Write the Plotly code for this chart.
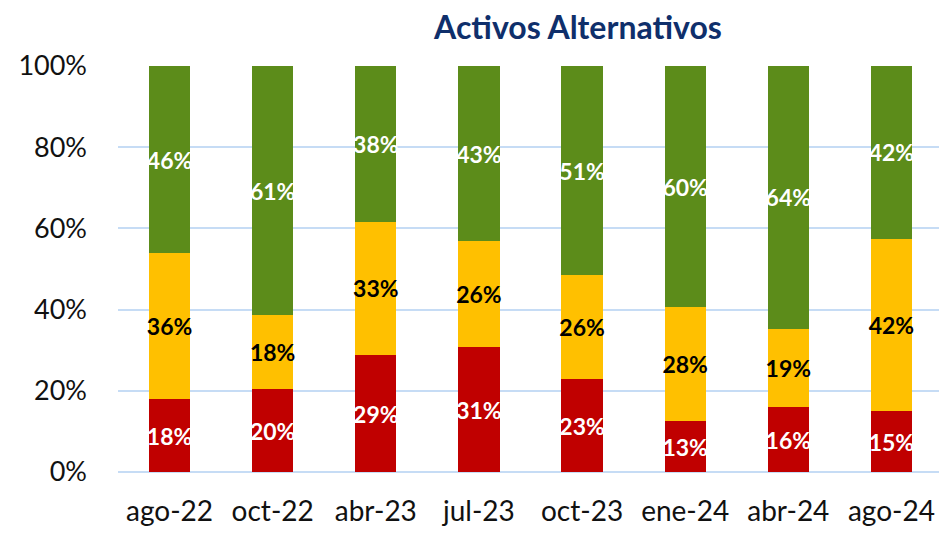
import plotly.graph_objects as go

categories = ["ago-22", "oct-22", "abr-23", "jul-23", "oct-23", "ene-24", "abr-24", "ago-24"]
red_vals = [17.9, 20.4, 28.7, 30.7, 22.8, 12.6, 15.9, 14.9]
yellow_vals = [36.0, 18.2, 33.0, 26.1, 25.6, 28.1, 19.2, 42.4]
green_vals = [46.1, 61.4, 38.3, 43.2, 51.4, 59.6, 64.4, 42.4]
y_ticks = [0, 20, 40, 60, 80, 100]
y_tick_labels = ["0%", "20%", "40%", "60%", "80%", "100%"]

series = [
    ("Rojo", red_vals, "#C00000", "white"),
    ("Amarillo", yellow_vals, "#FFC000", "black"),
    ("Verde", green_vals, "#5C8C1A", "white"),
]

fig = go.Figure()
for name, vals, color, tcolor in series:
    fig.add_trace(go.Bar(
        x=categories, y=vals, name=name,
        marker=dict(color=color, line=dict(width=0)),
        text=[f"{v:.0f}%" for v in vals],
        textposition="inside", insidetextanchor="middle",
        textangle=0, constraintext="none",
        textfont=dict(family="Lato", size=23, color=tcolor, weight="bold"),
        width=0.40,
    ))

fig.update_layout(
    barmode="stack",
    barnorm="percent",
    width=947, height=533,
    paper_bgcolor="white", plot_bgcolor="white",
    showlegend=False,
    uniformtext=dict(mode=False),
    margin=dict(l=110, r=12, t=58, b=69),
    title=dict(text="<b>Activos Alternativos</b>", x=570 / 947, xanchor="center",
               xref="container", y=0.962, yanchor="middle",
               font=dict(family="Lato", size=32, color="#0F2F6B")),
    xaxis=dict(showgrid=False, showline=False, ticks="", automargin=False,
               tickfont=dict(family="Lato", size=28, color="#111111"),
               ticklabelstandoff=20),
    yaxis=dict(range=[0, 100], tickvals=y_ticks, ticktext=y_tick_labels,
               showgrid=True, gridcolor="#C6DCF5", gridwidth=1.5,
               zeroline=True, zerolinecolor="#C6DCF5", zerolinewidth=1.5,
               showline=False, ticks="", automargin=False,
               tickfont=dict(family="Lato", size=27, color="#111111"),
               ticklabelstandoff=30),
)

fig.write_html("out.html")
